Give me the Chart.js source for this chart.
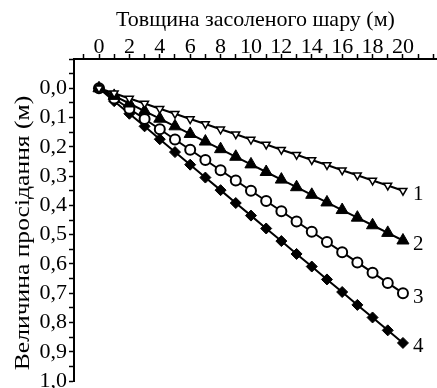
<!DOCTYPE html>
<html>
<head>
<meta charset="utf-8">
<script src="https://cdn.jsdelivr.net/npm/chart.js@4"></script>
<style>
  html, body { margin: 0; padding: 0; background: #fff; }
  #wrap { width: 437px; height: 388px; }
</style>
</head>
<body>
<div id="wrap"><canvas id="chart"></canvas></div>
<script>
// thickness of the salted layer, m
const thickness = [0, 1, 2, 3, 4, 5, 6, 7, 8, 9, 10, 11, 12, 13, 14, 15, 16, 17, 18, 19, 20];

// settlement, m
const curve1 = [0, 0.017, 0.035, 0.052, 0.07, 0.087, 0.105, 0.122, 0.14, 0.157, 0.175, 0.192, 0.21, 0.227, 0.245, 0.262, 0.28, 0.297, 0.315, 0.332, 0.35];
const curve2 = [0, 0.026, 0.052, 0.078, 0.104, 0.13, 0.156, 0.182, 0.208, 0.234, 0.26, 0.286, 0.312, 0.338, 0.364, 0.39, 0.416, 0.442, 0.468, 0.494, 0.52];
const curve3 = [0, 0.035, 0.07, 0.105, 0.14, 0.175, 0.21, 0.245, 0.28, 0.315, 0.35, 0.385, 0.42, 0.455, 0.49, 0.525, 0.56, 0.595, 0.63, 0.665, 0.7];
const curve4 = [0, 0.044, 0.087, 0.13, 0.174, 0.218, 0.261, 0.305, 0.348, 0.392, 0.435, 0.479, 0.522, 0.566, 0.609, 0.653, 0.696, 0.74, 0.783, 0.827, 0.87];

const curveNames = ["1", "2", "3", "4"];
const xTitle = "Товщина засоленого шару (м)";
const yTitle = "Величина просідання (м)";

const FONT = "'Liberation Serif', 'Times New Roman', serif";

const toPoints = (ys) => ys.map((y, i) => ({ x: thickness[i], y: y }));

// curve numbers at the right end + rotated y title
const labelsPlugin = {
  id: "curveLabels",
  afterDatasetsDraw(chart) {
    const ctx = chart.ctx;
    ctx.save();
    ctx.fillStyle = "#000";
    ctx.font = "21px " + FONT;
    ctx.textAlign = "left";
    ctx.textBaseline = "middle";
    chart.data.datasets.forEach((ds, i) => {
      const pts = chart.getDatasetMeta(i).data;
      const last = pts[pts.length - 1];
      ctx.fillText(curveNames[i], last.x + 10, last.y + 4);
    });
    ctx.restore();
  },
  afterDraw(chart) {
    // the original figure is stretched along this title, so stretch it too
    const ctx = chart.ctx;
    ctx.save();
    ctx.fillStyle = "#000";
    ctx.font = "20px " + FONT;
    ctx.textAlign = "center";
    ctx.textBaseline = "middle";
    ctx.translate(24, 233);
    ctx.rotate(-Math.PI / 2);
    ctx.scale(1.28, 1);
    ctx.fillText(yTitle, 0, 0);
    ctx.restore();
  },
};

const isMajor = (v, step) => Math.abs(v / step - Math.round(v / step)) < 1e-6;

new Chart(document.getElementById("chart"), {
  type: "line",
  data: {
    datasets: [
      {
        label: curveNames[0],
        data: toPoints(curve1),
        pointStyle: "triangle",
        rotation: 180,
        pointRadius: 4.5,
        backgroundColor: "#fff",
        borderColor: "#000",
        pointBorderWidth: 1.5,
        borderWidth: 2,
      },
      {
        label: curveNames[1],
        data: toPoints(curve2),
        pointStyle: "triangle",
        pointRadius: 7,
        backgroundColor: "#000",
        borderColor: "#000",
        pointBorderWidth: 1,
        borderWidth: 2,
      },
      {
        label: curveNames[2],
        data: toPoints(curve3),
        pointStyle: "circle",
        pointRadius: 5,
        backgroundColor: "#fff",
        borderColor: "#000",
        pointBorderWidth: 2,
        borderWidth: 2,
      },
      {
        label: curveNames[3],
        data: toPoints(curve4),
        pointStyle: "rectRot",
        pointRadius: 5.5,
        backgroundColor: "#000",
        borderColor: "#000",
        pointBorderWidth: 1,
        borderWidth: 2,
      },
    ],
  },
  options: {
    responsive: true,
    maintainAspectRatio: false,
    animation: false,
    layout: { autoPadding: false, padding: { left: 0, right: 0, top: 0, bottom: 7 } },
    plugins: {
      legend: { display: false },
      tooltip: { enabled: false },
    },
    elements: { line: { tension: 0 } },
    scales: {
      x: {
        type: "linear",
        position: "top",
        min: -1.645,
        max: 22.24,
        afterFit: (scale) => {
          scale.height = 59;
          scale.paddingLeft = 0;
          scale.paddingRight = 0;
        },
        border: { display: true, color: "#000", width: 2 },
        grid: { drawOnChartArea: false, drawTicks: true, tickLength: 5, tickColor: "#000", tickWidth: 1.5 },
        ticks: {
          stepSize: 1,
          includeBounds: false,
          maxRotation: 0,
          autoSkip: false,
          padding: -6,
          color: "#000",
          font: { family: FONT, size: 22 },
          callback: (v) => (v >= 0 && v <= 20 && isMajor(v, 2) ? String(v) : ""),
        },
        title: {
          display: true,
          text: xTitle,
          color: "#000",
          font: { family: FONT, size: 22 },
          padding: { top: 7, bottom: 0 },
        },
      },
      y: {
        type: "linear",
        position: "left",
        reverse: true,
        min: -0.1,
        max: 1.0,
        afterFit: (scale) => {
          scale.width = 74;
          scale.paddingTop = 0;
          scale.paddingBottom = 0;
        },
        border: { display: true, color: "#000", width: 2 },
        grid: { drawOnChartArea: false, drawTicks: true, tickLength: 5, tickColor: "#000", tickWidth: 1.5 },
        ticks: {
          stepSize: 0.05,
          autoSkip: false,
          padding: 2,
          color: "#000",
          font: { family: FONT, size: 22 },
          callback: (v) => (v >= 0 && isMajor(v, 0.1) ? v.toFixed(1).replace(".", ",") : ""),
        },
      },
    },
  },
  plugins: [labelsPlugin],
});
</script>
</body>
</html>
